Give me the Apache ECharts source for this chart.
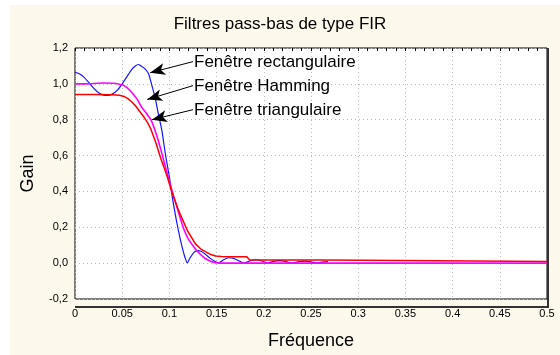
<!DOCTYPE html>
<html>
<head>
<meta charset="utf-8">
<script src="https://cdn.jsdelivr.net/npm/echarts@6/dist/echarts.min.js"></script>
<style>
html,body{margin:0;padding:0;background:#fff;}
#c{width:560px;height:355px;}
</style>
</head>
<body>
<div id="c"></div>
<script>
// ---- data ----
const xTickLabels = ['0','0.05','0.1','0.15','0.2','0.25','0.3','0.35','0.4','0.45','0.5'];
const yTickLabels = ['-0,2','0,0','0,2','0,4','0,6','0,8','1,0','1,2'];

const rectFreq = [0,0.005,0.01,0.015,0.02,0.025,0.03,0.035,0.04,0.045,0.05,0.055,0.06,0.064,0.067,0.07,0.074,0.078,0.081,0.085,0.088,0.092,0.096,0.1,0.103,0.107,0.11,0.113,0.116,0.119,0.122,0.126,0.13,0.134,0.138,0.143,0.148,0.152,0.157,0.163,0.168,0.174,0.179,0.185,0.192,0.198,0.204,0.21,0.217,0.224,0.23,0.237,0.244,0.251,0.257,0.263,0.268];
const rectGain = [1.065,1.055,1.035,1.005,0.975,0.95,0.937,0.935,0.945,0.965,1.0,1.04,1.08,1.1,1.108,1.1,1.085,1.055,1.0,0.92,0.84,0.74,0.6,0.48,0.37,0.25,0.17,0.1,0.04,0.002,0.03,0.06,0.07,0.065,0.05,0.028,0.01,0.0,0.018,0.03,0.027,0.012,0.0,0.012,0.019,0.012,0.0,0.01,0.014,0.008,0.0,0.008,0.011,0.006,0.0,0.007,0.009];

const hammFreq = [0,0.01,0.02,0.03,0.04,0.047,0.052,0.057,0.062,0.0664,0.07,0.075,0.0804,0.0856,0.0908,0.0954,0.1,0.103,0.107,0.111,0.1152,0.12,0.1274,0.133,0.138,0.143,0.148,0.155,0.2,0.3,0.4,0.5];
const hammGain = [1.0,1.0,1.002,1.005,1.003,0.998,0.99,0.97,0.94,0.909,0.875,0.84,0.8,0.727,0.636,0.545,0.455,0.4,0.33,0.26,0.19,0.135,0.08,0.048,0.026,0.012,0.004,0,0,0,0,0];

const triFreq = [0,0.02,0.04,0.047,0.052,0.056,0.06,0.064,0.068,0.0734,0.077,0.08,0.0856,0.0908,0.0945,0.0978,0.103,0.11,0.115,0.119,0.1274,0.133,0.138,0.143,0.149,0.155,0.163,0.182,0.185,0.263,0.265,0.5];
const triGain = [0.94,0.94,0.939,0.937,0.93,0.918,0.9,0.878,0.85,0.812,0.782,0.752,0.673,0.585,0.53,0.48,0.39,0.29,0.23,0.182,0.109,0.08,0.064,0.05,0.04,0.037,0.036,0.036,0.018,0.018,0.009,0.009];

const annTexts = ['Fenêtre rectangulaire','Fenêtre Hamming','Fenêtre triangulaire'];
const annFrom = [[0.125,1.124],[0.125,0.99],[0.125,0.856]];
const annTo = [[0.0795,1.062],[0.0765,0.913],[0.0815,0.80]];

function zip(a,b){return a.map((v,i)=>[v,b[i]]);}

const FONT = "'Liberation Sans', Arial, sans-serif";
const chart = echarts.init(document.getElementById('c'), null, {renderer:'canvas'});

function arrowLine(i){
  return {
    silent:true, symbol:['none','arrow'], symbolSize:[9,15],
    lineStyle:{color:'#000', width:1, type:'solid'},
    label:{show:false},
    emphasis:{disabled:true},
    data:[[{coord:annFrom[i]},{coord:annTo[i]}]]
  };
}

const option = {
  animation:false,
  backgroundColor:'#fdf8ec',
  title:{
    text:'Filtres pass-bas de type FIR', left:'center', top:11,
    textStyle:{fontFamily:FONT, fontSize:17, fontWeight:'normal', color:'#000'}
  },
  grid:{left:75, top:48, width:472, height:258, show:true, backgroundColor:'#fff', borderColor:'#000', borderWidth:1},
  xAxis:[{
    type:'value', min:0, max:0.5, interval:0.05, position:'bottom',
    name:'Fréquence', nameLocation:'middle', nameGap:33,
    nameTextStyle:{fontFamily:FONT, fontSize:18, color:'#000'},
    axisLine:{show:false}, axisTick:{show:false},
    axisLabel:{fontFamily:FONT, fontSize:11, color:'#000', margin:9,
      formatter:function(v){return xTickLabels[Math.round(v/0.05)];}},
    splitLine:{show:true, lineStyle:{color:'#bbb', type:[1,3], width:1}}
  },{
    type:'value', min:0, max:0.5, interval:0.05, position:'top',
    axisLine:{show:false}, axisLabel:{show:false},
    axisTick:{show:true, inside:true, length:3, lineStyle:{color:'#000'}},
    minorTick:{show:true, splitNumber:5, length:3, lineStyle:{color:'#000'}},
    splitLine:{show:false}
  }],
  yAxis:{
    type:'value', min:-0.2, max:1.2, interval:0.2,
    name:'Gain', nameLocation:'middle', nameGap:38,
    nameTextStyle:{fontFamily:FONT, fontSize:18, color:'#000'},
    axisLine:{show:false}, axisTick:{show:false},
    axisLabel:{fontFamily:FONT, fontSize:11, color:'#000', margin:7,
      formatter:function(v){return yTickLabels[Math.round((v+0.2)/0.2)];}},
    splitLine:{show:true, lineStyle:{color:'#bbb', type:[1,3], width:1}}
  },
  series:[
    {type:'line', name:'rect', data:zip(rectFreq,rectGain), showSymbol:false, smooth:0.2,
     lineStyle:{color:'#1515ff', width:1.2}, markLine:arrowLine(0), z:3},
    {type:'line', name:'hamm', data:zip(hammFreq,hammGain), showSymbol:false, smooth:0.2,
     lineStyle:{color:'#ff00ff', width:1.6}, markLine:arrowLine(1), z:4},
    {type:'line', name:'tri', data:zip(triFreq,triGain), showSymbol:false, smooth:false,
     lineStyle:{color:'#ff0000', width:1.5}, markLine:arrowLine(2), z:5}
  ]
};
chart.setOption(option);

// annotation texts and frame decorations
const g = [];
annTexts.forEach(function(t,i){
  const p = chart.convertToPixel({gridIndex:0}, annFrom[i]);
  g.push({type:'text', x:p[0]+1, y:p[1]+1, z:10,
    style:{text:t, fontFamily:FONT, fontSize:17, fill:'#000', textAlign:'left', textVerticalAlign:'middle'}});
});
// white margins of the picture
g.push({type:'rect', shape:{x:0,y:0,width:10,height:355}, style:{fill:'#fff'}, z:-10});
g.push({type:'rect', shape:{x:0,y:0,width:560,height:5}, style:{fill:'#fff'}, z:-10});
// heavier right and bottom frame edges
g.push({type:'line', shape:{x1:548,y1:48,x2:548,y2:308}, style:{stroke:'#333', lineWidth:2}, z:10});
g.push({type:'line', shape:{x1:75,y1:307,x2:549,y2:307}, style:{stroke:'#333', lineWidth:2}, z:10});
chart.setOption({graphic:g});
</script>
</body>
</html>
